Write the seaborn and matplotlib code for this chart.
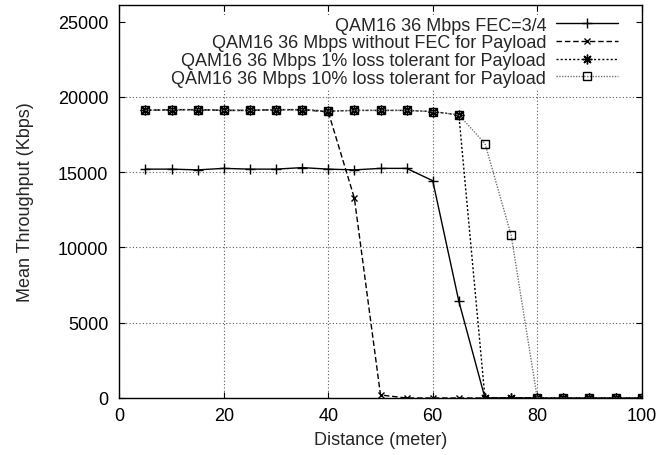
import matplotlib
matplotlib.use('Agg')
import matplotlib.pyplot as plt
import seaborn as sns

distance = [5, 10, 15, 20, 25, 30, 35, 40, 45, 50, 55, 60, 65, 70, 75, 80, 85, 90, 95, 100]

fec_34 = [15200, 15200, 15150, 15250, 15200, 15200, 15300, 15200, 15150, 15250,
          15250, 14430, 6420, 0, 0, 0, 0, 0, 0, 0]
no_fec = [19100, 19150, 19150, 19100, 19100, 19150, 19150, 19000, 13270, 200,
          0, 0, 0, 0, 0, 0, 0, 0, 0, 0]
loss_1 = [19100, 19150, 19150, 19100, 19100, 19150, 19150, 19050, 19100, 19100,
          19100, 19020, 18800, 0, 0, 0, 0, 0, 0, 0]
loss_10 = [19100, 19150, 19150, 19100, 19100, 19150, 19150, 19050, 19100, 19100,
           19100, 19020, 18800, 16900, 10830, 0, 0, 0, 0, 0]

labels = ['QAM16 36 Mbps FEC=3/4',
          'QAM16 36 Mbps without FEC for Payload',
          'QAM16 36 Mbps 1% loss tolerant for Payload',
          'QAM16 36 Mbps 10% loss tolerant for Payload']

sns.set_style('ticks')
plt.rcParams['font.family'] = ['Liberation Sans', 'DejaVu Sans']
fs = 13

fig = plt.figure(figsize=(6.6, 4.56), dpi=100)
ax = fig.add_axes([119.3 / 660, 1 - 399 / 456, 522.4 / 660, 393 / 456])

styles = [
    dict(color='black', linestyle='-', marker='+', markersize=7),
    dict(color='black', linestyle=(0, (4, 2)), marker='x', markersize=5),
    dict(color='black', linestyle=(0, (1.5, 1.5)), marker=(8, 2, 0), markersize=7),
    dict(color='0.45', linestyle=(0, (1, 1)), marker='s', markersize=6,
         markerfacecolor='none'),
]

for vals, lab, st in zip([fec_34, no_fec, loss_1, loss_10], labels, styles):
    sns.lineplot(x=distance, y=vals, ax=ax, label=lab, linewidth=1,
                 markeredgecolor='black', markeredgewidth=1, **st)

ax.set_xlim(0, 100)
ax.set_ylim(0, 26100)
ax.set_xticks([0, 20, 40, 60, 80, 100])
ax.set_yticks([0, 5000, 10000, 15000, 20000, 25000])
ax.tick_params(direction='in', length=4.3, width=0.8, top=True, right=True,
               labelsize=fs, pad=8, colors='black')
ax.tick_params(axis='x', pad=6.2)
for s in ax.spines.values():
    s.set_linewidth(1)
    s.set_color('black')

ax.grid(True, color='0.35', linestyle=(0, (1, 2)), linewidth=0.8)
ax.get_ygridlines()[-1].set_visible(False)
ax.set_axisbelow(True)

ax.set_xlabel('Distance (meter)', fontsize=fs, labelpad=5)
ax.set_ylabel('Mean Throughput (Kbps)', fontsize=fs, labelpad=17)

leg = ax.legend(loc='upper right', bbox_to_anchor=(0.9585, 0.975), frameon=True,
                markerfirst=False, handlelength=3.44, handletextpad=0.55,
                labelspacing=0.04, borderpad=0.1, borderaxespad=0, fontsize=fs,
                fancybox=False, framealpha=1, facecolor='white', edgecolor='none')

fig.savefig('out.png', dpi=100)
